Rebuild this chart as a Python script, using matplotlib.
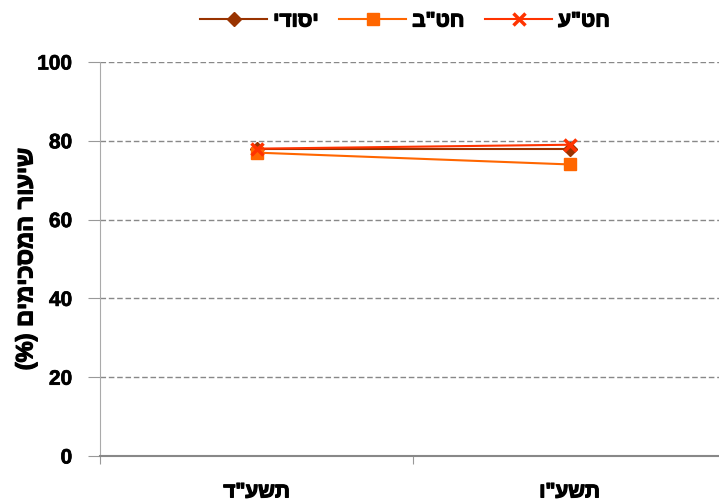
import matplotlib
matplotlib.use("Agg")
import matplotlib.pyplot as plt
import matplotlib.patheffects as pe

plt.rcParams['font.family'] = ['Liberation Sans', 'DejaVu Sans']

categories = ['תשע"ד', 'תשע"ו']
series_names = ['יסודי', 'חט"ב', 'חט"ע']
yesodi = [78, 78]
hatab = [77, 74]
hatea = [78, 79]
y_ticks = [0, 20, 40, 60, 80, 100]
y_label = 'שיעור המסכימים (%)'

MIRROR = {'(': ')', ')': '('}
BOLDER = [pe.withStroke(linewidth=0.9, foreground='black')]


def vis(s):
    # visual (RTL) order for matplotlib, which has no bidi support
    return ''.join(MIRROR.get(ch, ch) for ch in reversed(s))


fig = plt.figure(figsize=(7.19, 5.04), dpi=100)
ax = fig.add_axes([100 / 719, 48 / 504, 626 / 719, 394 / 504])

x = [0.5, 1.5]
styles = [
    (yesodi, '#993300', 'D', 7, series_names[0]),
    (hatab, '#FF6600', 's', 9, series_names[1]),
    (hatea, '#FF3300', 'x', 9, series_names[2]),
]
for vals, col, mk, ms, name in styles:
    kw = dict(color=col, marker=mk, markersize=ms, linewidth=1.5, label=vis(name))
    if mk == 'x':
        kw['markeredgewidth'] = 2.5
    ax.plot(x, vals, **kw)

ax.set_xlim(0, 2)
ax.set_ylim(0, 100)
ax.set_yticks(y_ticks)
ax.set_yticklabels([str(v) for v in y_ticks], fontsize=15, fontweight='bold')
for t in ax.get_yticklabels():
    t.set_path_effects([pe.withStroke(linewidth=0.5, foreground='black')])
ax.set_xticks([0, 1, 2])
ax.set_xticklabels([])
ax.set_xticks(x, minor=True)
ax.set_xticklabels([vis(c) for c in categories], minor=True, fontsize=15, fontweight='bold')
for t in ax.get_xticklabels(minor=True):
    t.set_path_effects(BOLDER)
ax.tick_params(axis='x', which='minor', length=0, pad=19)
ax.tick_params(axis='x', which='major', length=6, color='#999999', direction='out')
ax.tick_params(axis='y', length=9, color='#999999', direction='out', pad=11)

ax.yaxis.grid(True, linestyle=(0, (4, 2)), color='#888888', linewidth=1)
ax.set_axisbelow(True)

for s in ['top', 'right']:
    ax.spines[s].set_visible(False)
ax.spines['left'].set_color('#AAAAAA')
ax.spines['bottom'].set_color('#888888')
ax.spines['bottom'].set_linewidth(1.5)

yl = ax.set_ylabel(vis(y_label), fontsize=17, fontweight='bold')
yl.set_path_effects(BOLDER)
ax.yaxis.set_label_coords(-0.100, 0.5)

leg = ax.legend(loc='center', bbox_to_anchor=(405 / 719, 1 - 21 / 504), bbox_transform=fig.transFigure,
                ncol=3, frameon=False, prop={'size': 15, 'weight': 'bold'},
                handlelength=3.2, columnspacing=1.0, handletextpad=0.3)
for t in leg.get_texts():
    t.set_path_effects(BOLDER)

fig.savefig('out.png', dpi=100)
